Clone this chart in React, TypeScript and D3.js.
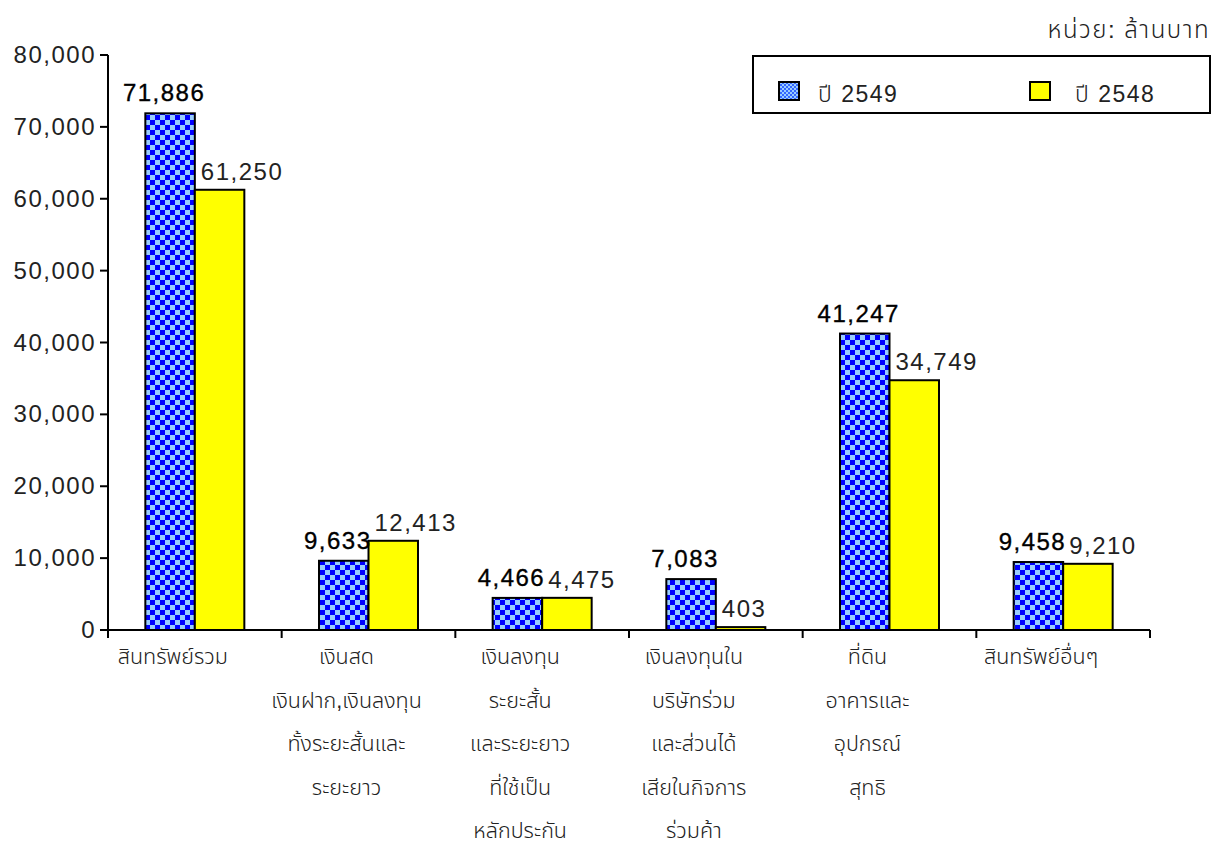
import React from "react";
import * as d3 from "d3";

const categories: string[][] = [
  ["สินทรัพย์รวม"],
  ["เงินสด", "เงินฝาก,เงินลงทุน", "ทั้งระยะสั้นและ", "ระยะยาว"],
  ["เงินลงทุน", "ระยะสั้น", "และระยะยาว", "ที่ใช้เป็น", "หลักประกัน"],
  ["เงินลงทุนใน", "บริษัทร่วม", "และส่วนได้", "เสียในกิจการ", "ร่วมค้า"],
  ["ที่ดิน", "อาคารและ", "อุปกรณ์", "สุทธิ"],
  ["สินทรัพย์อื่นๆ"],
];
const series2549: number[] = [71886, 9633, 4466, 7083, 41247, 9458];
const series2548: number[] = [61250, 12413, 4475, 403, 34749, 9210];
const seriesNames: string[] = ["ปี 2549", "ปี 2548"];
const yTicks: number[] = [0, 10000, 20000, 30000, 40000, 50000, 60000, 70000, 80000];
const unitLabel = "หน่วย: ล้านบาท";

const W = 1221;
const H = 842;
const FONT =
  "'Liberation Sans', Arial, 'Noto Sans Thai', 'Noto Sans Thai Looped', Garuda, Loma, Waree, Norasi, 'Noto Sans', sans-serif";

export default function App() {
  const left = 108;
  const right = 1150;
  const top = 55;
  const bottom = 630;
  const y = d3.scaleLinear().domain([0, 80000]).range([bottom, top]);
  const keys = categories.map((_, i) => String(i));
  const x0 = d3.scaleBand<string>().domain(keys).range([left, right]).padding(0);
  const barW = 49.5;
  const groupOff = (x0.bandwidth() - 2 * barW) / 2;
  const x1 = d3
    .scaleBand<string>()
    .domain(["a", "b"])
    .range([groupOff, groupOff + 2 * barW])
    .padding(0);
  const fmt = d3.format(",");
  const boundaries = d3.range(categories.length + 1).map((i) => left + i * x0.bandwidth());
  const numStyle = { letterSpacing: "1.5px" } as React.CSSProperties;

  return (
    <svg
      width={W}
      height={H}
      style={{ position: "absolute", left: 0, top: 0, background: "#fff" }}
      fontFamily={FONT}
    >
      <defs>
        <pattern id="chk" width={10} height={10} patternUnits="userSpaceOnUse" x={0} y={0}>
          <rect width={10} height={10} fill="#99CCFF" />
          <rect x={0} y={0} width={5} height={5} fill="#0000FF" />
          <rect x={5} y={5} width={5} height={5} fill="#0000FF" />
        </pattern>
        <pattern id="chkSmall" width={4} height={4} patternUnits="userSpaceOnUse">
          <rect width={4} height={4} fill="#99CCFF" />
          <rect x={0} y={0} width={2} height={2} fill="#3366FF" />
          <rect x={2} y={2} width={2} height={2} fill="#3366FF" />
        </pattern>
      </defs>

      {/* unit label */}
      <text
        x={1210}
        y={38}
        textAnchor="end"
        fontSize={24}
        fontWeight={300}
        fill="#222"
        style={{ letterSpacing: "1.5px" }}
      >
        {unitLabel}
      </text>

      {/* bars */}
      {keys.map((k, i) => {
        const bx = x0(k)! + x1("a")!;
        const yx = x0(k)! + x1("b")!;
        const v1 = series2549[i];
        const v2 = series2548[i];
        return (
          <g key={k}>
            <rect
              x={bx}
              y={y(v1)}
              width={x1.bandwidth()}
              height={bottom - y(v1)}
              fill="url(#chk)"
              stroke="#000"
              strokeWidth={2}
            />
            <rect
              x={yx}
              y={y(v2)}
              width={x1.bandwidth()}
              height={bottom - y(v2)}
              fill="#FFFF00"
              stroke="#000"
              strokeWidth={2}
            />
            <text
              x={bx + barW / 2 - 6}
              y={y(v1) - 12}
              textAnchor="middle"
              fontSize={24}
              fill="#000"
              stroke="#000"
              strokeWidth={0.35}
              style={numStyle}
            >
              {fmt(v1)}
            </text>
            <text
              x={yx + 6}
              y={y(v2) - 10}
              textAnchor="start"
              fontSize={24}
              fill="#222"
              style={numStyle}
            >
              {fmt(v2)}
            </text>
          </g>
        );
      })}

      {/* y axis */}
      <line x1={left} x2={left} y1={top} y2={bottom + 8} stroke="#000" strokeWidth={2} />
      {yTicks.map((t) => (
        <g key={t}>
          <line x1={left - 8} x2={left} y1={y(t)} y2={y(t)} stroke="#000" strokeWidth={2} />
          <text
            x={left - 12}
            y={y(t) + 8}
            textAnchor="end"
            fontSize={24}
            fill="#222"
            style={numStyle}
          >
            {fmt(t)}
          </text>
        </g>
      ))}

      {/* x axis */}
      <line x1={left} x2={right} y1={bottom} y2={bottom} stroke="#000" strokeWidth={2} />
      {boundaries.map((bx, i) => (
        <line key={i} x1={bx} x2={bx} y1={bottom} y2={bottom + 8} stroke="#000" strokeWidth={2} />
      ))}
      {categories.map((lines, i) => {
        const cx = x0(keys[i])! + x0.bandwidth() / 2 - 22;
        return (
          <text key={i} textAnchor="middle" fontSize={21.5} fontWeight={300} fill="#222">
            {lines.map((ln, j) => (
              <tspan key={j} x={cx} y={664 + j * 43.5}>
                {ln}
              </tspan>
            ))}
          </text>
        );
      })}

      {/* legend */}
      <rect x={753} y={56} width={457} height={57} fill="#fff" stroke="#000" strokeWidth={2} />
      <rect x={779} y={82} width={20} height={18} fill="url(#chkSmall)" stroke="#000" strokeWidth={2} />
      <text x={818} y={102} fontSize={23} fontWeight={300} fill="#222" style={numStyle}>
        {seriesNames[0]}
      </text>
      <rect x={1030} y={82} width={20} height={18} fill="#FFFF00" stroke="#000" strokeWidth={2} />
      <text x={1075} y={102} fontSize={23} fontWeight={300} fill="#222" style={numStyle}>
        {seriesNames[1]}
      </text>
    </svg>
  );
}
